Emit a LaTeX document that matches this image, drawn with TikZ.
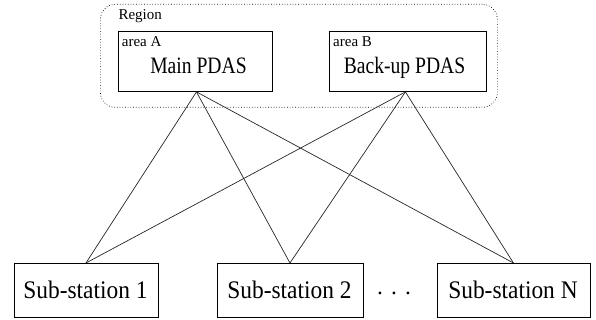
\documentclass[tikz,border=0pt]{standalone}
\usepackage{fontspec}
\setmainfont{Liberation Serif}
\begin{document}
\begin{tikzpicture}[x=1pt,y=-1pt,
  box/.style={draw,line width=0.9pt,inner sep=0pt,anchor=north west},
  link/.style={line width=0.7pt,draw=black!85},
  pdas/.style={font=\fontsize{19.6}{22}\selectfont,inner sep=0pt,anchor=base},
  subtxt/.style={font=\fontsize{23.4}{26}\selectfont,inner sep=0pt,anchor=base},
  small/.style={font=\fontsize{15}{16}\selectfont,inner sep=0pt,anchor=base west}]
\useasboundingbox (0,0) rectangle (596,320);
% region
\node[draw,dotted,line width=0.7pt,rounded corners=15pt,inner sep=0pt,anchor=north west,minimum width=397pt,minimum height=103pt] (region) at (100,4) {};
\node[small] (reglab) at (118.3,19.5) {Region};
% PDAS boxes
\node[box,minimum width=154pt,minimum height=60pt] (main) at (118,31) {};
\node[small] (areaA) at (121.7,46.5) {area A};
\node[pdas] (maintxt) at (198.5,74) {\scalebox{1}[1.2]{Main PDAS}};
\node[box,minimum width=157.5pt,minimum height=60pt] (back) at (328.5,31) {};
\node[small] (areaB) at (333,46.5) {area B};
\node[pdas] (backtxt) at (404.5,74) {\scalebox{1}[1.2]{Back-up PDAS}};
\coordinate (ma) at ([xshift=1pt]main.south);
\coordinate (ba) at ([xshift=-2.3pt]back.south);
% substations
\node[box,minimum width=144pt,minimum height=54pt] (s1) at (13.5,263) {};
\node[subtxt] (s1txt) at (85.5,298.3) {\scalebox{1}[1.08]{Sub-station 1}};
\node[box,minimum width=146pt,minimum height=54pt] (s2) at (216.5,263) {};
\node[subtxt] (s2txt) at (289.5,298.3) {\scalebox{1}[1.08]{Sub-station 2}};
\node[box,minimum width=153pt,minimum height=54pt] (sN) at (436.5,263) {};
\node[subtxt] (sNtxt) at (513,298.3) {\scalebox{1}[1.08]{Sub-station N}};
\node[subtxt] (dots) at (394,294.5) {.\hspace{8.15pt}.\hspace{8.15pt}.};
% links
\foreach \s in {s1,s2,sN}{
  \draw[link] (ma) -- (\s.north);
  \draw[link] (ba) -- (\s.north);
}
\end{tikzpicture}
\end{document}
